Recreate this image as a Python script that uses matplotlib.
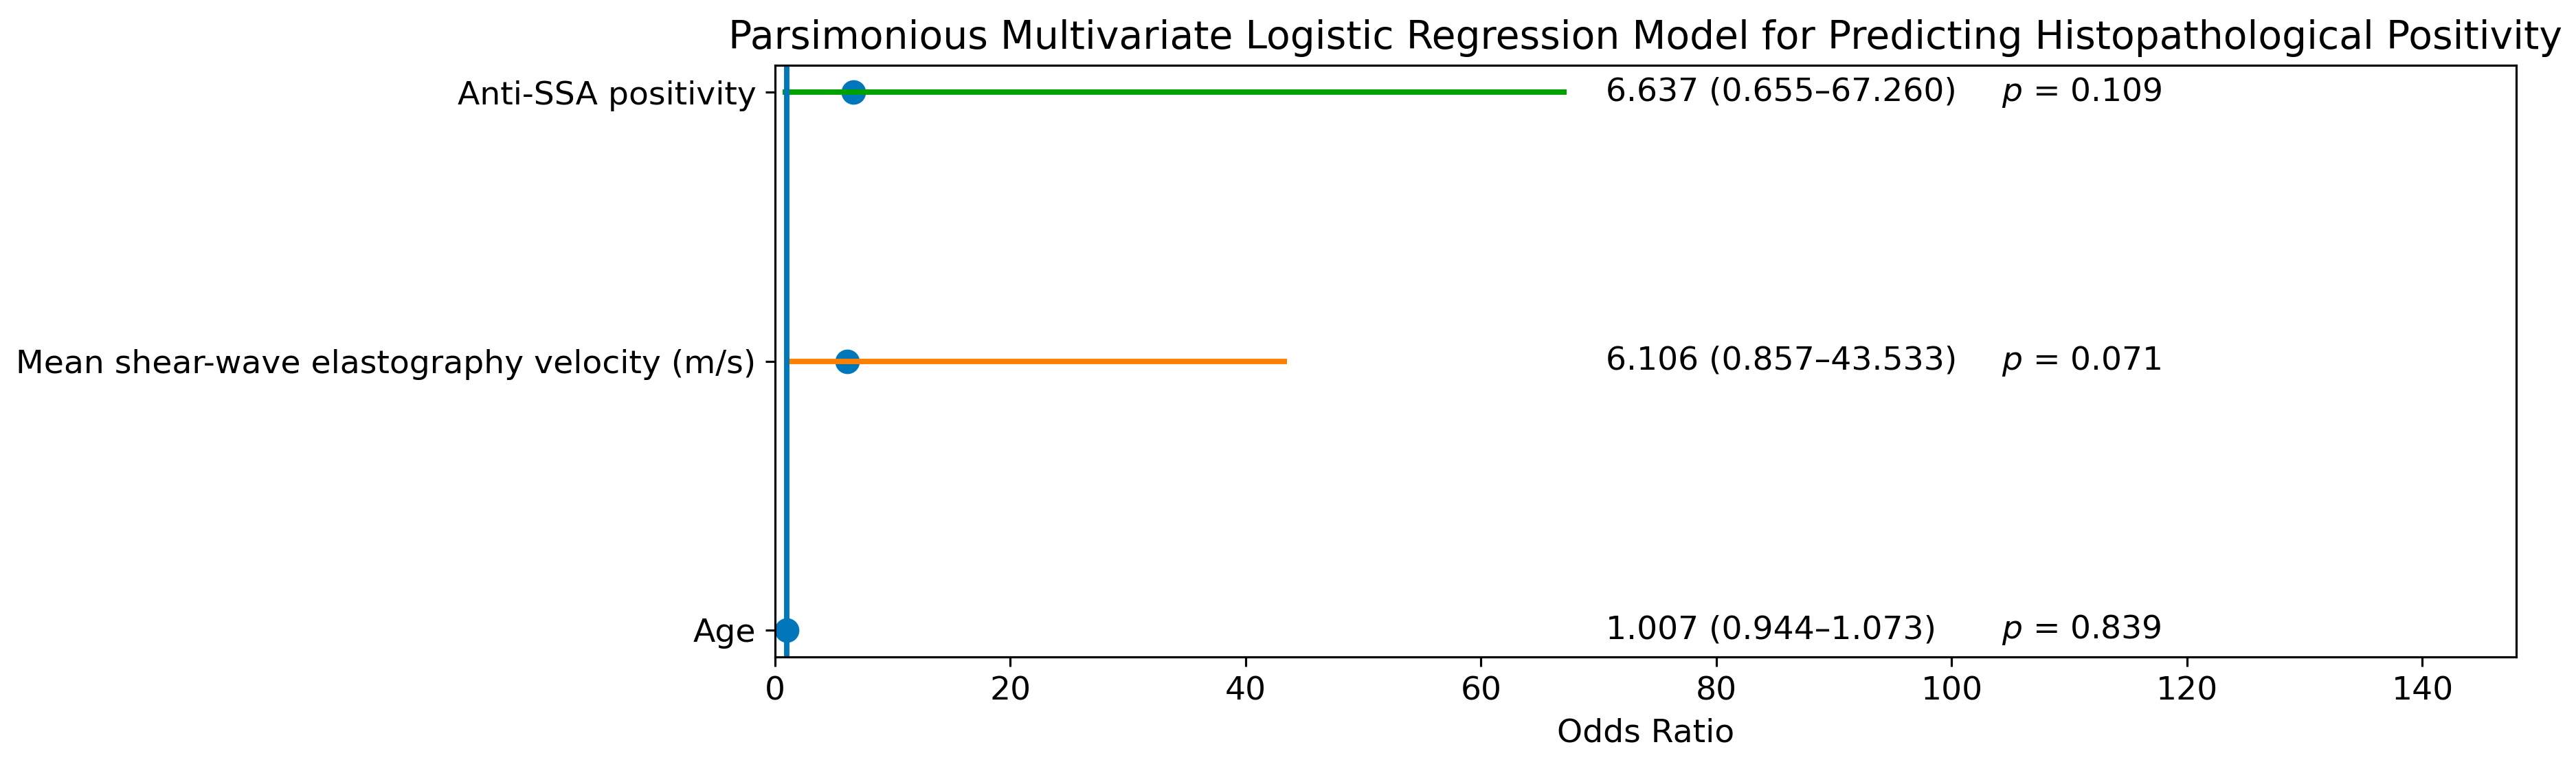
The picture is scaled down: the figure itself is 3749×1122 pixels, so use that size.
import matplotlib
matplotlib.use("Agg")
import matplotlib.pyplot as plt

variables = ["Age", "Mean shear-wave elastography velocity (m/s)", "Anti-SSA positivity"]
odds_ratio = [1.007, 6.106, 6.637]
ci_lower = [0.944, 0.857, 0.655]
ci_upper = [1.073, 43.533, 67.260]
p_values = [0.839, 0.071, 0.109]
line_colors = ["#0077BB", "#FF8000", "#00A000"]

S = 0.946
fig = plt.figure(figsize=(3749 / 300, 1122 / 300), dpi=300)
ax = fig.add_axes([1128 / 3749, 1 - 956 / 1122, (3662 - 1128) / 3749, (956 - 95) / 1122])

ypos = list(range(len(variables)))
ax.plot(odds_ratio, ypos, "o", color="#0077BB", markersize=8 * S, linestyle="none")
ax.hlines(ypos, ci_lower, ci_upper, colors=line_colors, linewidth=2 * S)
ax.axvline(1, color="#0077BB", linewidth=2 * S)

xmax = max(ci_upper)
for y, o, lo, hi, p in zip(ypos, odds_ratio, ci_lower, ci_upper, p_values):
    ax.text(xmax * 1.05, y, f"{o:.3f} ({lo:.3f}\u2013{hi:.3f})", va="center", ha="left", fontsize=12 * S)
    ax.text(xmax * 1.55, y, f"$p$ = {p:.3f}", va="center", ha="left", fontsize=12 * S)

ax.set_xlim(0, xmax * 2.2)
ax.set_yticks(ypos)
ax.set_yticklabels(variables)
ax.tick_params(labelsize=12 * S, width=0.8 * S, length=3.5 * S, pad=3.5 * S)
for sp in ax.spines.values():
    sp.set_linewidth(0.8 * S)
ax.set_xlabel("Odds Ratio", fontsize=12 * S, labelpad=4 * S)
ax.set_title("Parsimonious Multivariate Logistic Regression Model for Predicting Histopathological Positivity",
             fontsize=14.4 * S, pad=6 * S)

fig.savefig("out.png", dpi=300)
